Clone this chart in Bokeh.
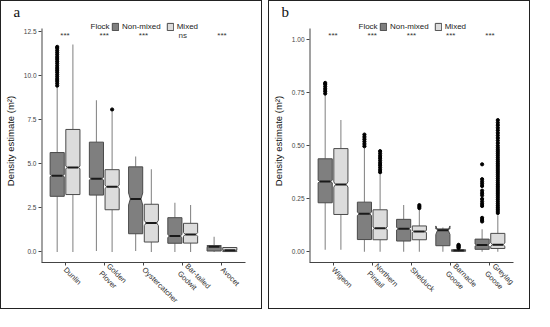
import math
from bokeh.plotting import figure
from bokeh.models import (Range1d, FixedTicker, Legend, LegendItem, Label,
                          ColumnDataSource, PrintfTickFormatter, Spacer)
from bokeh.layouts import row
from bokeh.core.properties import value
from bokeh.embed import file_html
from bokeh.resources import INLINE

# ---------------- data: panel a ----------------
species_a = ["Dunlin", "Golden\nPlover", "Oystercatcher", "Bar-tailed\nGodwit", "Avocet"]
sig_a = ["***", "***", "***", "ns", "***"]
# (lower whisker, q1, median, q3, upper whisker)
nonmixed_a = [
    [0.0, 3.15, 4.32, 5.63, 9.30],
    [0.05, 3.22, 4.15, 6.22, 8.60],
    [0.05, 1.03, 3.00, 4.82, 5.41],
    [0.0, 0.49, 0.90, 1.94, 2.79],
    [0.0, 0.05, 0.29, 0.36, 0.86],
]
mixed_a = [
    [0.0, 3.25, 4.79, 6.94, 11.75],
    [0.0, 2.39, 3.69, 4.66, 7.95],
    [0.0, 0.56, 1.64, 2.70, 4.69],
    [0.0, 0.50, 0.99, 1.62, 2.66],
    [0.0, 0.02, 0.09, 0.25, 0.27],
]
notch_nonmixed_a = [0.06, 0.07, 0.34, 0.08, 0.02]
notch_mixed_a = [0.07, 0.09, 0.15, 0.10, 0.02]
outliers_nonmixed_a = [
    [9.42, 9.55, 9.68, 9.80, 9.93, 10.05, 10.18, 10.30, 10.42, 10.55, 10.68,
     10.80, 10.93, 11.05, 11.18, 11.30, 11.42, 11.55, 11.62],
    [], [], [], [],
]
outliers_mixed_a = [[], [8.07], [], [], []]

# ---------------- data: panel b ----------------
species_b = ["Wigeon", "Northern\nPintail", "Shelduck", "Barnacle\nGoose", "Greylag\nGoose"]
sig_b = ["***", "***", "***", "***", "***"]
nonmixed_b = [
    [0.01, 0.231, 0.331, 0.438, 0.740],
    [0.0, 0.058, 0.179, 0.234, 0.490],
    [0.0, 0.051, 0.109, 0.153, 0.220],
    [0.0, 0.029, 0.102, 0.108, 0.115],
    [0.0, 0.012, 0.032, 0.060, 0.106],
]
mixed_b = [
    [0.01, 0.176, 0.317, 0.486, 0.620],
    [0.0, 0.057, 0.111, 0.198, 0.370],
    [0.0, 0.057, 0.096, 0.122, 0.200],
    [0.0, 0.003, 0.006, 0.010, 0.014],
    [0.0, 0.016, 0.034, 0.087, 0.172],
]
notch_nonmixed_b = [0.006, 0.008, 0.006, 0.02, 0.005]
notch_mixed_b = [0.012, 0.006, 0.005, 0.001, 0.008]
outliers_nonmixed_b = [
    [0.745, 0.756, 0.767, 0.778, 0.789, 0.795],
    [0.497, 0.508, 0.519, 0.530, 0.541, 0.552],
    [],
    [],
    [0.412, 0.342, 0.331, 0.321, 0.310, 0.288, 0.276, 0.266, 0.249, 0.237,
     0.226, 0.216, 0.160, 0.150, 0.143],
]
outliers_mixed_b = [
    [],
    [0.375, 0.386, 0.397, 0.408, 0.419, 0.430, 0.441, 0.452, 0.463, 0.474],
    [0.206, 0.213, 0.220],
    [0.018, 0.022, 0.026, 0.030, 0.033],
    [0.183, 0.192, 0.201, 0.210, 0.219, 0.228, 0.237, 0.246, 0.255, 0.264,
     0.273, 0.282, 0.291, 0.300, 0.309, 0.318, 0.327, 0.336, 0.345, 0.354,
     0.363, 0.372, 0.381, 0.390, 0.399, 0.408, 0.417, 0.426, 0.435, 0.444,
     0.453, 0.462, 0.471, 0.480, 0.490, 0.500, 0.512, 0.524, 0.536, 0.548,
     0.560, 0.572, 0.584, 0.596, 0.608, 0.620],
]

NONMIX_FILL = "#7f7f7f"
MIX_FILL = "#dcdcdc"
BOX_LINE = "#4a4a4a"
WHISK = "#8a8a8a"
HALF_W = 0.18
DODGE = 0.2
NOTCH_W = 0.75
FONT = "Liberation Sans"
FIG_W, FIG_H = 262, 309
TOP, BOTTOM = 18, 48
FRAME_H = FIG_H - TOP - BOTTOM


def build_boxes(stats, notches, offset):
    xs, ys = [], []
    med = dict(x0=[], x1=[], y=[])
    wh = dict(x=[], y0=[], y1=[])
    for i, (s, n) in enumerate(zip(stats, notches)):
        lo, q1, md, q3, hi = s
        c = i + 1 + offset
        w = HALF_W
        wi = HALF_W * NOTCH_W
        xs.append([c - w, c + w, c + w, c + wi, c + w, c + w, c - w, c - w, c - wi, c - w])
        ys.append([q1, q1, md - n, md, md + n, q3, q3, md + n, md, md - n])
        med["x0"].append(c - wi)
        med["x1"].append(c + wi)
        med["y"].append(md)
        wh["x"] += [c, c]
        wh["y0"] += [lo, q3]
        wh["y1"] += [q1, hi]
    return dict(xs=xs, ys=ys), med, wh


def build_outliers(outs, offset):
    x, y = [], []
    for i, vals in enumerate(outs):
        for v in vals:
            x.append(i + 1 + offset)
            y.append(v)
    return dict(x=x, y=y)


def make_panel(letter, species, sig, nm, mx, nn, nmx, onm, omx, y_start, axis_top, y_end,
               ticks, fmt, sig_y, flock_y):
    p = figure(width=FIG_W, height=FIG_H, x_range=Range1d(0.4, 5.6),
               y_range=Range1d(y_start, y_end), output_backend="svg",
               toolbar_location=None, min_border_left=34, min_border_right=18,
               min_border_top=TOP, min_border_bottom=BOTTOM, title=letter)
    p.styles = {"border": "1px solid #222222"}
    p.grid.visible = False
    p.outline_line_color = None
    p.background_fill_color = "white"

    p.title.text_font = "Liberation Serif"
    p.title.text_font_size = "15px"
    p.title.text_font_style = "normal"
    p.title.text_color = "#111111"
    p.title.align = "left"
    p.title.offset = -28
    p.title.standoff = 0

    # y axis line drawn only up to the top of the data area
    p.segment(x0=[0.4], y0=[y_start], x1=[0.4], y1=[axis_top],
              line_color="#444444", line_width=2)

    renderers = []
    for stats, notch, outs, off, fill in ((nm, nn, onm, -DODGE, NONMIX_FILL),
                                          (mx, nmx, omx, DODGE, MIX_FILL)):
        box, med, wh = build_boxes(stats, notch, off)
        p.segment(x0="x", y0="y0", x1="x", y1="y1", source=ColumnDataSource(wh),
                  line_color=WHISK, line_width=1.1)
        r = p.patches(xs="xs", ys="ys", source=ColumnDataSource(box),
                      fill_color=fill, line_color=BOX_LINE, line_width=1)
        renderers.append(r)
        p.segment(x0="x0", y0="y", x1="x1", y1="y", source=ColumnDataSource(med),
                  line_color="#1a1a1a", line_width=2)
        p.scatter(x="x", y="y", source=ColumnDataSource(build_outliers(outs, off)),
                  size=3.2, fill_color="black", line_color="black")

    p.text(x=list(range(1, 6)), y=[sig_y] * 5, text=sig, text_align="center",
           text_baseline="middle", text_font=value(FONT), text_font_size="8px",
           text_color="#333333")

    legend = Legend(items=[LegendItem(label="Non-mixed", renderers=[renderers[0]]),
                           LegendItem(label="Mixed", renderers=[renderers[1]])],
                    location=(70, FRAME_H - 12), orientation="horizontal")
    legend.border_line_color = None
    legend.background_fill_alpha = 0
    legend.label_text_font = FONT
    legend.label_text_font_size = "8px"
    legend.label_text_color = "#222222"
    legend.glyph_width = 8
    legend.glyph_height = 9
    legend.label_standoff = 3
    legend.spacing = 5
    legend.padding = 1
    legend.margin = 0
    legend.label_height = 9
    p.add_layout(legend)

    p.add_layout(Label(x=49, x_units="screen", y=flock_y, y_units="data", text="Flock",
                       text_font=FONT, text_font_size="8px",
                       text_baseline="middle", text_color="#222222"))

    ax = p.xaxis[0]
    ax.ticker = FixedTicker(ticks=[1, 2, 3, 4, 5])
    ax.major_label_overrides = {i + 1: s for i, s in enumerate(species)}
    ax.major_label_orientation = -math.pi / 4
    ax.major_label_text_font = FONT
    ax.major_label_text_font_size = "7.5px"
    ax.major_label_text_color = "#333333"
    ax.major_label_standoff = 3
    ax.major_tick_out = 3
    ax.major_tick_in = 0
    ax.minor_tick_line_color = None
    ax.axis_line_color = "#444444"
    ax.major_tick_line_color = "#444444"

    ay = p.yaxis[0]
    ay.ticker = FixedTicker(ticks=ticks)
    ay.formatter = PrintfTickFormatter(format=fmt)
    ay.major_label_text_font = FONT
    ay.major_label_text_font_size = "6.5px"
    ay.major_label_text_color = "#444444"
    ay.major_label_standoff = 2
    ay.major_tick_out = 3
    ay.major_tick_in = 0
    ay.minor_tick_line_color = None
    ay.axis_line_color = None
    ay.major_tick_line_color = "#444444"
    ay.axis_label = "Density estimate (m²)"
    ay.axis_label_text_font = FONT
    ay.axis_label_text_font_size = "9.5px"
    ay.axis_label_text_font_style = "normal"
    ay.axis_label_text_color = "#111111"
    ay.axis_label_standoff = 5
    return p


pa = make_panel("a", species_a, sig_a, nonmixed_a, mixed_a, notch_nonmixed_a, notch_mixed_a,
                outliers_nonmixed_a, outliers_mixed_a, -0.6, 12.66, 13.17,
                [0.0, 2.5, 5.0, 7.5, 10.0, 12.5], "%.1f", 12.25, 12.80)
pb = make_panel("b", species_b, sig_b, nonmixed_b, mixed_b, notch_nonmixed_b, notch_mixed_b,
                outliers_nonmixed_b, outliers_mixed_b, -0.05, 1.051, 1.0934,
                [0.0, 0.25, 0.5, 0.75, 1.0], "%.2f", 1.02, 1.0628)

layout = row(pa, Spacer(width=6, height=FIG_H), pb)
open("out.html", "w").write(file_html(layout, INLINE))
